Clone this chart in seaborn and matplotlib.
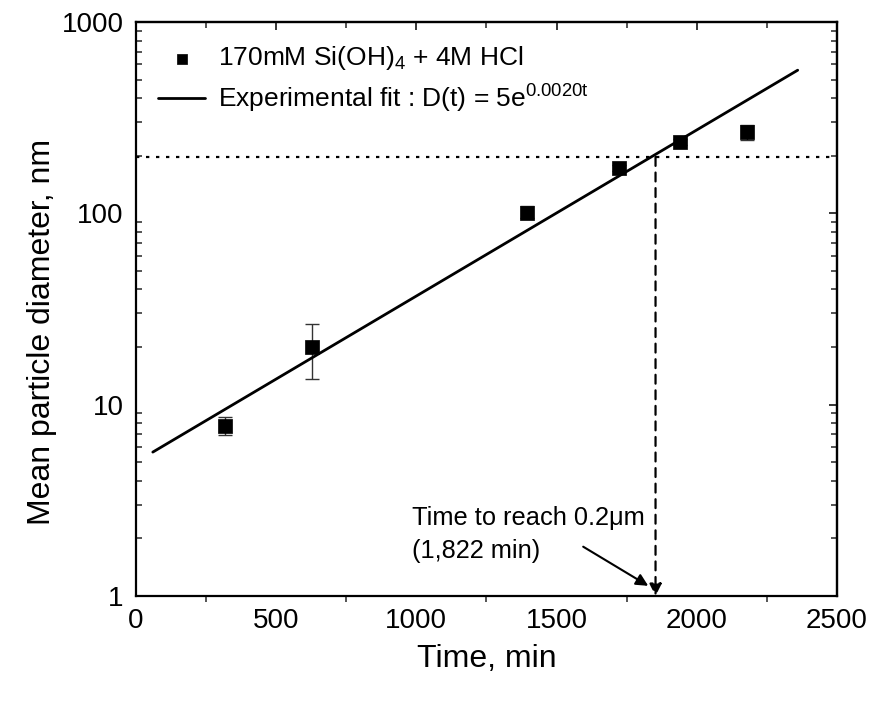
import matplotlib
matplotlib.use("Agg")
import matplotlib.pyplot as plt
import seaborn as sns
import numpy as np
import pandas as pd

# ---- data ----
time_min = [317, 626, 1393, 1721, 1940, 2180]
diameter_nm = [7.75, 20.1, 101, 173, 235, 266]
err_low = [6.9, 13.6, 94, 167, 227, 241]
err_high = [8.66, 26.3, 109, 179, 244, 291]

fit_t = [60, 2360]
fit_d = [5.65, 560]

target_d = 197
target_t = 1853

xticks = [0, 500, 1000, 1500, 2000, 2500]
yticks = [1, 10, 100, 1000]
ytick_labels = ["1", "10", "100", "1000"]

sns.set_theme(style="white")
plt.rcParams["font.family"] = ["Liberation Sans", "DejaVu Sans"]
plt.rcParams["mathtext.fontset"] = "custom"
plt.rcParams["mathtext.rm"] = "Liberation Sans"
plt.rcParams["mathtext.it"] = "Liberation Sans:italic"
plt.rcParams["text.color"] = "black"
plt.rcParams["axes.labelcolor"] = "black"

fig = plt.figure(figsize=(8.7, 7.01), dpi=100)
ax = fig.add_axes([0.1563, 0.1498, 0.8057, 0.8188])

pts = pd.DataFrame({"t": time_min, "d": diameter_nm})
fit = pd.DataFrame({"t": fit_t, "d": fit_d})

yerr = np.array([np.array(diameter_nm) - np.array(err_low),
                 np.array(err_high) - np.array(diameter_nm)])
ax.errorbar(time_min, diameter_nm, yerr=yerr, fmt="none", ecolor="#333333",
            elinewidth=1.0, capsize=5, capthick=1.0, zorder=2)

sns.lineplot(data=fit, x="t", y="d", ax=ax, color="black", linewidth=2.0,
             label="Experimental fit : D(t) = 5e$^{\\mathrm{0.0020t}}$", zorder=3)
sns.scatterplot(data=pts, x="t", y="d", ax=ax, marker="s", s=90, color="black",
                edgecolor="black", linewidth=0.5,
                label="170mM Si(OH)$_4$ + 4M HCl", zorder=4)

ax.set_yscale("log")
ax.set_xlim(0, 2500)
ax.set_ylim(1, 1000)

# reference lines
ax.axhline(target_d, color="black", linestyle=(0, (1.5, 3)), linewidth=1.6, zorder=1)
ax.annotate("", xy=(target_t, 1.0), xytext=(target_t, target_d),
            arrowprops=dict(arrowstyle="-|>", color="black", lw=1.6,
                            linestyle=(0, (4, 3)), mutation_scale=18,
                            shrinkA=0, shrinkB=0))
ax.annotate("", xy=(1827, 1.13), xytext=(1595, 1.81),
            arrowprops=dict(arrowstyle="-|>", color="black", lw=1.5,
                            mutation_scale=18, shrinkA=0, shrinkB=0))
ax.text(984, 2.55, "Time to reach 0.2\u03bcm", fontsize=18.3, ha="left", va="center")
ax.text(984, 1.71, "(1,822 min)", fontsize=18.3, ha="left", va="center")

ax.set_xticks(xticks)
ax.set_xticklabels([str(v) for v in xticks])
ax.set_yticks(yticks)
ax.set_yticklabels(ytick_labels)
ax.xaxis.set_minor_locator(matplotlib.ticker.MultipleLocator(250))
ax.yaxis.set_minor_locator(matplotlib.ticker.LogLocator(base=10, subs=np.arange(2, 10)))
ax.yaxis.set_minor_formatter(matplotlib.ticker.NullFormatter())

ax.set_xlabel("Time, min", fontsize=23, labelpad=7)
ax.set_ylabel("Mean particle diameter, nm", fontsize=23)
ax.yaxis.set_label_coords(-0.113, 0.46)

ax.tick_params(axis="both", which="major", labelsize=20, length=6, width=1.3,
               color="black", labelcolor="black")
ax.tick_params(axis="x", which="major", direction="out", pad=3)
ax.tick_params(axis="x", which="minor", direction="out", length=4, width=1.1, bottom=True)
ax.tick_params(axis="y", which="major", direction="out", pad=3)
ax.tick_params(axis="y", which="minor", direction="in", length=4, width=1.1, left=True)

for s in ax.spines.values():
    s.set_color("black")
    s.set_linewidth(1.6)
    s.set_visible(True)

# top & right inward ticks
secx = ax.secondary_xaxis("top")
secx.set_xticks(xticks)
secx.xaxis.set_minor_locator(matplotlib.ticker.MultipleLocator(250))
secx.tick_params(axis="x", which="major", direction="in", length=6, width=1.3, labeltop=False)
secx.tick_params(axis="x", which="minor", direction="in", length=4, width=1.1)
secx.spines["top"].set_linewidth(1.6)
secy = ax.secondary_yaxis("right")
secy.set_yticks(yticks)
secy.yaxis.set_minor_locator(matplotlib.ticker.LogLocator(base=10, subs=np.arange(2, 10)))
secy.yaxis.set_minor_formatter(matplotlib.ticker.NullFormatter())
secy.tick_params(axis="y", which="major", direction="in", length=6, width=1.3, labelright=False)
secy.tick_params(axis="y", which="minor", direction="in", length=4, width=1.1)
secy.spines["right"].set_linewidth(1.6)

# legend: points first, then fit line
handles, labels = ax.get_legend_handles_labels()
order = [labels.index(l) for l in labels if "Si(OH)" in l] + [labels.index(l) for l in labels if "fit" in l]
leg = ax.legend([handles[i] for i in order], [labels[i] for i in order],
                loc="upper left", frameon=False, fontsize=19,
                bbox_to_anchor=(0.0, 1.0), handlelength=1.75, handletextpad=0.5,
                labelspacing=0.38, markerscale=0.8, borderaxespad=0.45)

fig.savefig("out.png", dpi=100, facecolor="white")
